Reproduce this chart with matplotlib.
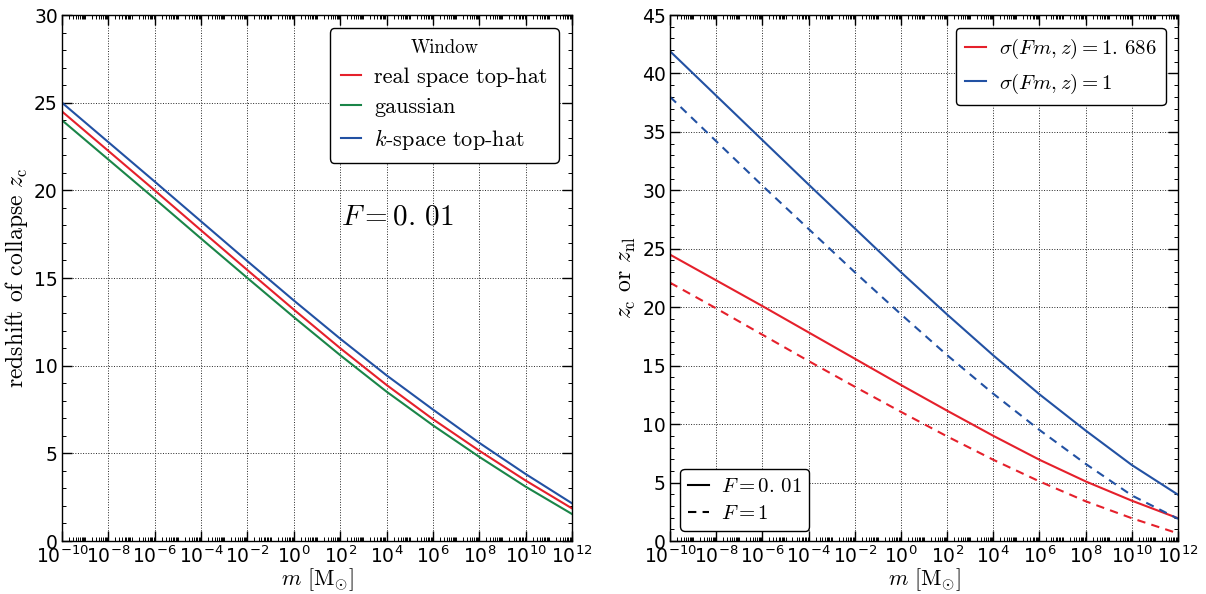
import numpy as np
import matplotlib
matplotlib.use("Agg")
import matplotlib.pyplot as plt
from matplotlib.ticker import LogLocator, MultipleLocator, NullFormatter

plt.rcParams['mathtext.fontset'] = 'cm'
plt.rcParams['font.family'] = 'DejaVu Sans'
plt.rcParams['axes.unicode_minus'] = False

# masses sampled every two decades, in solar masses
mass = 10.0 ** np.arange(-10, 13, 2)

# left panel: redshift of collapse for F = 0.01 and three windows
zc_tophat = [24.5, 22.25, 20.0, 17.72, 15.45, 13.2, 11.0, 8.9, 6.95, 5.15, 3.45, 1.86]
zc_gauss = [24.0, 21.76, 19.52, 17.25, 15.0, 12.77, 10.6, 8.52, 6.6, 4.8, 3.1, 1.54]
zc_khat = [25.0, 22.75, 20.5, 18.23, 15.96, 13.72, 11.54, 9.45, 7.5, 5.6, 3.82, 2.15]

# right panel: sigma = 1.686 (red) and sigma = 1 (blue), F = 0.01 solid, F = 1 dashed
z_red_f001 = [24.5, 22.3, 20.1, 17.85, 15.6, 13.35, 11.15, 9.0, 6.95, 5.1, 3.45, 1.95]
z_red_f1 = [22.1, 19.9, 17.65, 15.4, 13.2, 11.05, 8.95, 6.95, 5.1, 3.4, 1.95, 0.65]
z_blue_f001 = [41.9, 38.1, 34.3, 30.5, 26.75, 23.0, 19.38, 15.88, 12.55, 9.45, 6.5, 3.96]
z_blue_f1 = [38.0, 34.2, 30.4, 26.7, 23.0, 19.4, 15.9, 12.6, 9.5, 6.6, 3.9, 1.9]

red = '#e5202b'
green = '#1a8548'
blue = '#2251a3'


def style_axis(ax, ymax):
    ax.set_xscale('log')
    ax.set_xlim(1e-10, 1e12)
    ax.set_ylim(0, ymax)
    ax.set_xticks(mass)
    ax.xaxis.set_minor_locator(LogLocator(base=10, subs=np.arange(1, 10), numticks=200))
    ax.xaxis.set_minor_formatter(NullFormatter())
    ax.yaxis.set_major_locator(MultipleLocator(5))
    ax.yaxis.set_minor_locator(MultipleLocator(1))
    ax.tick_params(which='both', direction='in', top=True, right=True, labelsize=13.5)
    ax.tick_params(which='major', length=7, width=1, pad=3)
    ax.tick_params(which='minor', length=3, width=0.7)
    ax.grid(True, which='major', linestyle=':', color='0.15', linewidth=0.7)
    ax.set_xlabel(r'$m\ [\mathrm{M}_{\odot}]$', fontsize=16, labelpad=0)
    for s in ax.spines.values():
        s.set_linewidth(1.0)


fig = plt.figure(figsize=(12.06, 5.94), dpi=100)
ax1 = fig.add_axes([0.0514, 0.0892, 0.4229, 0.8855])
ax2 = fig.add_axes([0.5556, 0.0892, 0.4212, 0.8855])

ax1.plot(mass, zc_tophat, color=red, lw=1.5, label='real space top-hat')
ax1.plot(mass, zc_gauss, color=green, lw=1.5, label='gaussian')
ax1.plot(mass, zc_khat, color=blue, lw=1.5, label=r'$k$-space top-hat')
style_axis(ax1, 30)
ax1.set_ylabel(r'redshift of collapse $z_{\mathrm{c}}$',
               fontdict={'family': 'cmr10', 'size': 17}, labelpad=3)
leg1 = ax1.legend(loc='upper right', prop={'family': 'cmr10', 'size': 16}, title='Window',
                  handlelength=0.9, fancybox=True, framealpha=1, edgecolor='black',
                  borderpad=0.5, labelspacing=0.45, handletextpad=0.6, borderaxespad=0.6)
leg1.get_title().set_fontproperties({'family': 'cmr10', 'size': 13.5})
leg1.get_frame().set_linewidth(1.0)
ax1.text(0.657, 0.617, r'$F=0.\,01$', transform=ax1.transAxes, fontsize=21,
         ha='center', va='center')

style_axis(ax2, 45)
l1, = ax2.plot(mass, z_red_f001, color=red, lw=1.5)
ax2.plot(mass, z_red_f1, color=red, lw=1.5, dashes=(4, 3))
l2, = ax2.plot(mass, z_blue_f001, color=blue, lw=1.5)
ax2.plot(mass, z_blue_f1, color=blue, lw=1.5, dashes=(4, 3))
ax2.set_ylabel(r'$z_{\mathrm{c}}$ or $z_{\mathrm{nl}}$',
               fontdict={'family': 'cmr10', 'size': 17}, labelpad=3)

leg2 = ax2.legend([l1, l2], [r'$\sigma(Fm,z)=1.\,686$', r'$\sigma(Fm,z)=1$'],
                  loc='upper right', prop={'size': 15}, handlelength=1.0,
                  fancybox=True, framealpha=1, edgecolor='black', borderpad=0.45,
                  labelspacing=0.5, handletextpad=0.6, borderaxespad=0.6)
leg2.get_frame().set_linewidth(1.0)
ax2.add_artist(leg2)
k1, = ax2.plot([], [], color='black', lw=1.5)
k2, = ax2.plot([], [], color='black', lw=1.5, dashes=(4, 3))
leg3 = ax2.legend([k1, k2], [r'$F=0.\,01$', r'$F=1$'], loc='lower left',
                  prop={'size': 15}, handlelength=1.0, fancybox=True, framealpha=1,
                  edgecolor='black', borderpad=0.35, labelspacing=0.35, handletextpad=0.6)
leg3.get_frame().set_linewidth(1.0)

fig.savefig('out.png', dpi=100, facecolor='white')
